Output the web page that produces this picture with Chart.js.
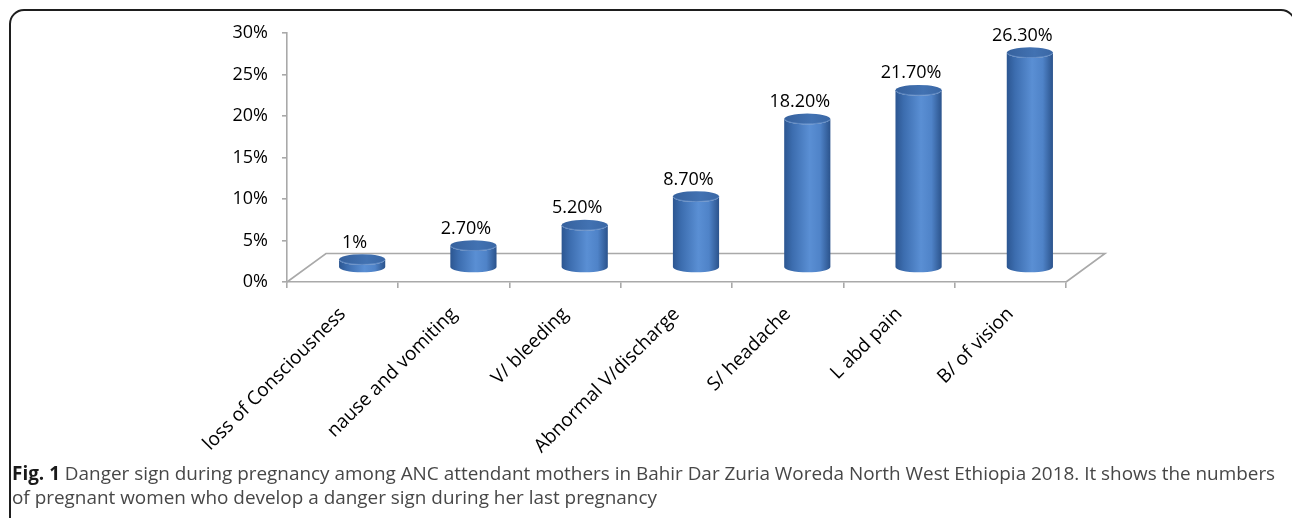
<!DOCTYPE html>
<html>
<head>
<meta charset="utf-8">
<script src="https://cdn.jsdelivr.net/npm/chart.js@4.4.1/dist/chart.umd.min.js"></script>
<style>
  html, body { margin: 0; padding: 0; background: #fff; width: 1292px; height: 518px; overflow: hidden; }
  #frame { position: absolute; left: 9px; top: 9px; width: 1287px; height: 560px; border: 2px solid #1e1e1e; border-radius: 15px; box-sizing: border-box; }
  #wrap { position: absolute; left: 0; top: 0; width: 1292px; height: 518px; }
  #caption { position: absolute; left: 12px; top: 461px; font-family: "Open Sans", sans-serif; color: #474747; font-size: 17px; line-height: 24px; white-space: nowrap; }
  #caption b { color: #1a1a1a; font-weight: 700; }
</style>
</head>
<body>
<div id="frame"></div>
<div id="wrap"><canvas id="chart" width="1292" height="518"></canvas></div>
<div id="caption">
  <div id="line1"><b>Fig. 1</b> Danger sign during pregnancy among ANC attendant mothers in Bahir Dar Zuria Woreda North West Ethiopia 2018. It shows the numbers</div>
  <div id="line2">of pregnant women who develop a danger sign during her last pregnancy</div>
</div>
<script>
// Danger signs reported during the last pregnancy (percent of mothers)
const categories = [
  "loss of Consciousness",
  "nause and vomiting",
  "V/ bleeding",
  "Abnormal V/discharge",
  "S/ headache",
  "L abd pain",
  "B/ of vision"
];
const percentValues = [1, 2.7, 5.2, 8.7, 18.2, 21.7, 26.3];
const yTickValues = [0, 5, 10, 15, 20, 25, 30];

// Fit the caption's first line to the frame width
(function fitCaption() {
  const line = document.getElementById('line1');
  const cap = document.getElementById('caption');
  const target = 1264;
  const w = line.getBoundingClientRect().width;
  if (w > 0) cap.style.fontSize = (17 * target / w).toFixed(2) + 'px';
})();

const DEPTH_X = 39;      // floor depth, horizontal
const DEPTH_Y = -28.5;   // floor depth, vertical
const HEIGHT_SCALE = 0.985;
const FLOOR_COLOR = '#a9a9a9';
const FONT = '"Open Sans", sans-serif';

function valueText(v) {
  return Number.isInteger(v) ? v + '%' : v.toFixed(2) + '%';
}

const cylinderPlugin = {
  id: 'cylinders',
  beforeDatasetsDraw(chart) {
    const { ctx, chartArea } = chart;
    const L = chartArea.left, R = chartArea.right, B = chartArea.bottom;
    ctx.save();
    ctx.strokeStyle = FLOOR_COLOR;
    ctx.lineWidth = 1.6;
    ctx.beginPath();
    ctx.moveTo(L, B);
    ctx.lineTo(L + DEPTH_X, B + DEPTH_Y);
    ctx.lineTo(R + DEPTH_X, B + DEPTH_Y);
    ctx.lineTo(R, B);
    ctx.stroke();
    ctx.restore();
  },
  afterDatasetsDraw(chart) {
    const { ctx } = chart;
    const meta = chart.getDatasetMeta(0);
    const values = chart.data.datasets[0].data;
    ctx.save();
    meta.data.forEach((bar, i) => {
      const rx = bar.width / 2;
      const ry = 5.4;
      const cx = bar.x + DEPTH_X / 2;
      const base = bar.base + DEPTH_Y / 2;
      const top = base - (bar.base - bar.y) * HEIGHT_SCALE;

      // body
      const g = ctx.createLinearGradient(cx - rx, 0, cx + rx, 0);
      g.addColorStop(0.00, '#2c5691');
      g.addColorStop(0.18, '#3c6daf');
      g.addColorStop(0.55, '#5a8fd4');
      g.addColorStop(0.78, '#4f83c8');
      g.addColorStop(1.00, '#2b538c');
      ctx.beginPath();
      ctx.moveTo(cx - rx, top);
      ctx.lineTo(cx - rx, base);
      ctx.ellipse(cx, base, rx, ry, 0, Math.PI, 0, true);
      ctx.lineTo(cx + rx, top);
      ctx.ellipse(cx, top, rx, ry, 0, 0, Math.PI, false);
      ctx.closePath();
      ctx.fillStyle = g;
      ctx.fill();

      // cap
      const tg = ctx.createLinearGradient(cx - rx, top, cx + rx, top);
      tg.addColorStop(0, '#36619d');
      tg.addColorStop(0.6, '#4272b2');
      tg.addColorStop(1, '#3a67a5');
      ctx.beginPath();
      ctx.ellipse(cx, top, rx, ry, 0, 0, Math.PI * 2);
      ctx.fillStyle = tg;
      ctx.fill();
      ctx.strokeStyle = 'rgba(120,160,215,0.6)';
      ctx.lineWidth = 1;
      ctx.beginPath();
      ctx.ellipse(cx, top, rx - 0.5, ry - 0.5, 0, 0.15, Math.PI - 0.15);
      ctx.stroke();

      // value label
      ctx.fillStyle = '#000';
      ctx.font = '18px ' + FONT;
      ctx.textAlign = 'center';
      ctx.textBaseline = 'middle';
      ctx.fillText(valueText(values[i]), cx - 7.5, top - 17);
    });
    ctx.restore();
  }
};

new Chart(document.getElementById('chart'), {
  type: 'bar',
  data: {
    labels: categories,
    datasets: [{
      data: percentValues,
      backgroundColor: 'rgba(0,0,0,0)',
      borderWidth: 0,
      categoryPercentage: 1,
      barPercentage: 0.415
    }]
  },
  options: {
    responsive: false,
    devicePixelRatio: 1,
    animation: false,
    layout: { padding: { left: 200, right: 226, top: 33, bottom: 56 } },
    plugins: { legend: { display: false }, tooltip: { enabled: false } },
    scales: {
      x: {
        offset: true,
        grid: { offset: true, drawOnChartArea: false, color: FLOOR_COLOR, tickLength: 6, lineWidth: 1.6 },
        border: { color: FLOOR_COLOR, width: 1.6 },
        ticks: {
          color: '#000',
          font: { family: FONT, size: 19 },
          minRotation: 45,
          maxRotation: 45,
          padding: 15,
          autoSkip: false
        },
        afterFit(scale) { scale.height = 180; }
      },
      y: {
        min: 0,
        max: 30,
        afterBuildTicks(scale) { scale.ticks = yTickValues.map(v => ({ value: v })); },
        grid: { drawOnChartArea: false, color: FLOOR_COLOR, tickLength: 5, lineWidth: 1.6 },
        border: { color: FLOOR_COLOR, width: 1.6 },
        ticks: {
          color: '#000',
          font: { family: FONT, size: 18 },
          padding: 14,
          callback: v => v + '%'
        },
        afterFit(scale) { scale.width = 87; }
      }
    }
  },
  plugins: [cylinderPlugin]
});
</script>
</body>
</html>
